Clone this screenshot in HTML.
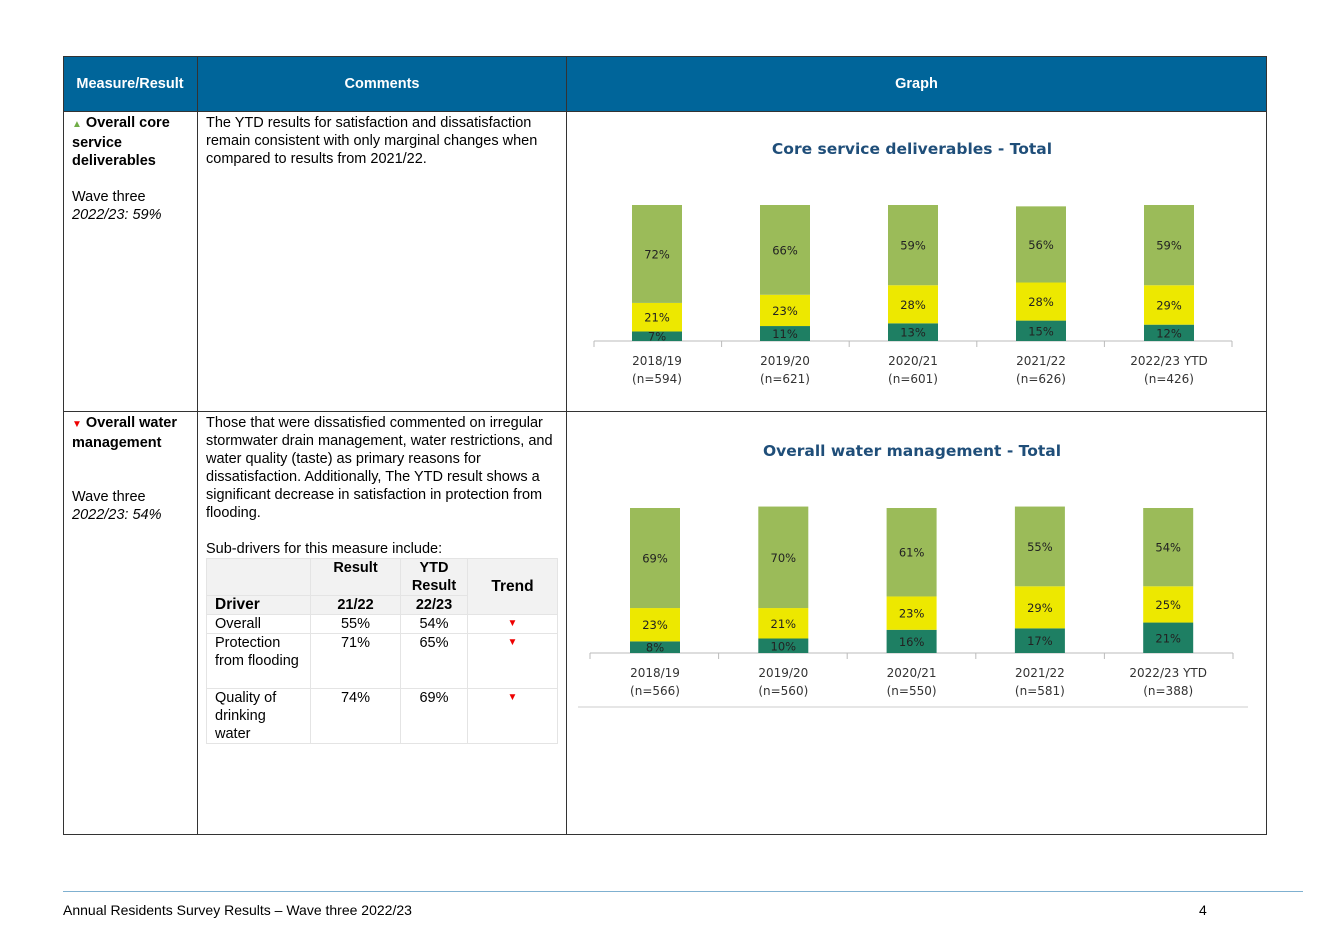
<!DOCTYPE html>
<html><head><meta charset="utf-8"><style>
body{margin:0;background:#fff;width:1329px;height:939px;position:relative;font-family:"Liberation Sans",Arial,sans-serif;overflow:hidden}
.a{position:absolute}
.t{font-size:14.5px;line-height:18px;color:#000}
.hd{color:#fff;font-weight:bold;font-size:14.5px;text-align:center;top:76px}
.tb td{font-size:14.5px;line-height:18px;padding:0 8px;vertical-align:top;border:1px solid #e4e4e4}
</style></head><body>
<div class="a" style="left:63px;top:56px;width:1203px;height:56px;background:#00659a"></div>
<div class="a" style="left:63px;top:56px;width:1202px;height:777px;border:1px solid #333"></div>
<div class="a" style="left:197px;top:56px;width:1px;height:778px;background:#333"></div>
<div class="a" style="left:566px;top:56px;width:1px;height:778px;background:#333"></div>
<div class="a" style="left:63px;top:111px;width:1203px;height:1px;background:#333"></div>
<div class="a" style="left:63px;top:411px;width:1203px;height:1px;background:#333"></div>
<div class="a hd" style="left:63px;width:134px">Measure/Result</div>
<div class="a hd" style="left:197px;width:370px">Comments</div>
<div class="a hd" style="left:567px;width:699px">Graph</div>

<div class="a t" style="left:72px;top:114px;width:122px"><b><span style="color:#70ad47;font-size:10px">▲</span> Overall core service deliverables</b><br><br>Wave three<br><i>2022/23: 59%</i></div>
<div class="a t" style="left:206px;top:114px;width:355px">The YTD results for satisfaction and dissatisfaction remain consistent with only marginal changes when compared to results from 2021/22.</div>
<div class="a t" style="left:72px;top:414px;width:122px"><b><span style="color:#e00;font-size:10px">▼</span> Overall water management</b><br><br><br>Wave three<br><i>2022/23: 54%</i></div>
<div class="a t" style="left:206px;top:414px;width:355px">Those that were dissatisfied commented on irregular stormwater drain management, water restrictions, and water quality (taste) as primary reasons for dissatisfaction. Additionally, The YTD result shows a significant decrease in satisfaction in protection from flooding.<br><br>Sub-drivers for this measure include:</div>
<table class="a tb" style="left:206px;top:558px;border-collapse:collapse;width:352px">
<tr style="background:#f2f2f2"><td style="width:87px;height:34px"></td><td style="width:73px;text-align:center"><b>Result</b></td><td style="width:50px;text-align:center"><b>YTD Result</b></td><td rowspan="2" style="text-align:center;vertical-align:middle;font-size:15.5px"><b>Trend</b></td></tr>
<tr style="background:#f2f2f2"><td style="font-size:15.5px"><b>Driver</b></td><td style="text-align:center"><b>21/22</b></td><td style="text-align:center"><b>22/23</b></td></tr>
<tr><td>Overall</td><td style="text-align:center">55%</td><td style="text-align:center">54%</td><td style="text-align:center;color:#e00;font-size:10px">▼</td></tr>
<tr><td style="height:54px">Protection from flooding</td><td style="text-align:center">71%</td><td style="text-align:center">65%</td><td style="text-align:center;color:#e00;font-size:10px">▼</td></tr>
<tr><td style="height:54px">Quality of drinking water</td><td style="text-align:center">74%</td><td style="text-align:center">69%</td><td style="text-align:center;color:#e00;font-size:10px">▼</td></tr>
</table>

<svg class="a" style="left:0;top:0" width="1329" height="939">
<g id="c1"></g>
<g id="c2"></g>
<line x1="578" y1="707" x2="1248" y2="707" stroke="#ccc"/>
</svg>

<div class="a" style="left:63px;top:891px;width:1240px;height:1px;background:#7fb0d0"></div>
<div class="a" style="left:63px;top:902px;font-size:14px">Annual Residents Survey Results – Wave three 2022/23</div>
<div class="a" style="left:1199px;top:902px;font-size:14px">4</div>

<script>
const cats1=["2018/19","2019/20","2020/21","2021/22","2022/23 YTD"];
const ns1=["(n=594)","(n=621)","(n=601)","(n=626)","(n=426)"];
const dis1=[7,11,13,15,12];
const neu1=[21,23,28,28,29];
const sat1=[72,66,59,56,59];
const cats2=["2018/19","2019/20","2020/21","2021/22","2022/23 YTD"];
const ns2=["(n=566)","(n=560)","(n=550)","(n=581)","(n=388)"];
const dis2=[8,10,16,17,21];
const neu2=[23,21,23,29,25];
const sat2=[69,70,61,55,54];
const NS="http://www.w3.org/2000/svg";
function mk(p,tag,at,txt){const e=document.createElementNS(NS,tag);for(const k in at)e.setAttribute(k,at[k]);if(txt!=null)e.textContent=txt;p.appendChild(e);return e;}
function draw(g,title,ty,cats,ns,dis,neu,sat,x0,step,base,h,axL,axR){
  const F='"DejaVu Sans","Liberation Sans",sans-serif';
  const t=mk(g,'text',{x:912,y:ty,'text-anchor':'middle','font-family':F,'font-size':15.5,'font-weight':'bold',fill:'#1f4e79'},title);
  
  const yS=v=>v/100*h;
  mk(g,'line',{x1:axL,y1:base,x2:axR,y2:base,stroke:'#bbb'});
  const n=cats.length;const sw=(axR-axL)/n;
  for(let i=0;i<=n;i++)mk(g,'line',{x1:axL+i*sw,y1:base,x2:axL+i*sw,y2:base+6,stroke:'#bbb'});
  for(let i=0;i<n;i++){
    const cx=x0+i*step;let y=base;
    const segs=[[dis[i],'#1e7f63','dis'],[neu[i],'#ede800','neu'],[sat[i],'#9bbb59','sat']];
    for(const [v,c,nm] of segs){
      const hh=yS(v);y-=hh;
      const r=mk(g,'rect',{x:cx-25,y:y,width:50,height:hh,fill:c});
      
      mk(g,'text',{x:cx,y:y+hh/2+4.5,'text-anchor':'middle','font-family':F,'font-size':11.5,fill:'#222'},v+'%');
    }
    const l=mk(g,'text',{x:cx,y:base+24,'text-anchor':'middle','font-family':F,'font-size':12,fill:'#333'},cats[i]);
    
    mk(g,'text',{x:cx,y:base+42,'text-anchor':'middle','font-family':F,'font-size':12,fill:'#333'},ns[i]);
  }
}
draw(document.getElementById('c1'),'Core service deliverables - Total',154,cats1,ns1,dis1,neu1,sat1,657,128,341,136,594,1232);
draw(document.getElementById('c2'),'Overall water management - Total',456,cats2,ns2,dis2,neu2,sat2,655,128.3,653,145,590,1233);
</script>
</body></html>
